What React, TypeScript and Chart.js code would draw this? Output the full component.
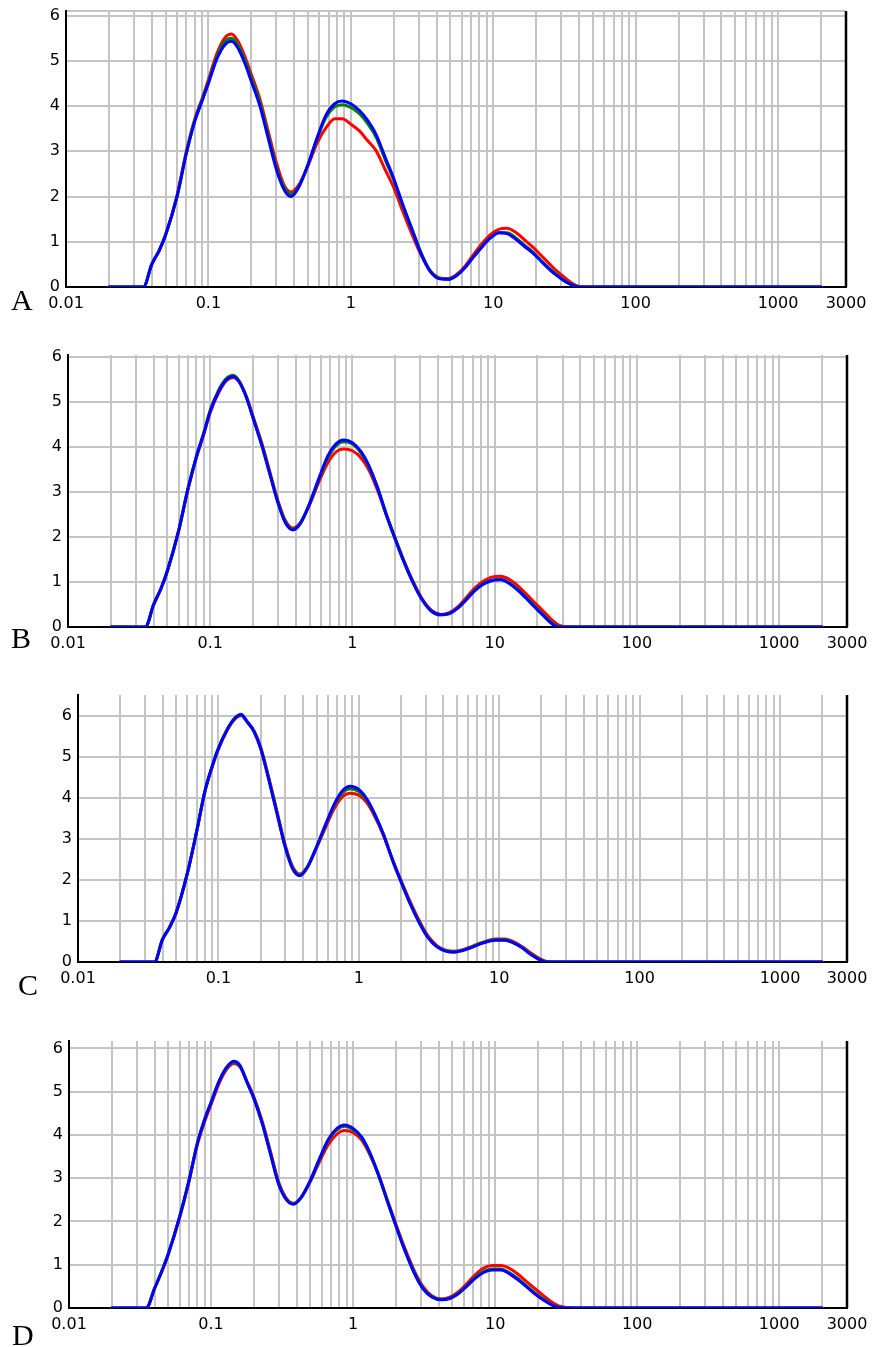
import React, { useEffect, useRef } from 'react';
import { Chart, registerables } from 'chart.js';

Chart.register(...registerables);

// particle size classes (µm) shared by all panels
const sizes = [0.02, 0.035, 0.04, 0.045, 0.05, 0.06, 0.07, 0.08, 0.09, 0.1, 0.115, 0.13, 0.145, 0.16, 0.18, 0.2, 0.23, 0.26, 0.3, 0.34, 0.38, 0.43, 0.5, 0.58, 0.67, 0.77, 0.87, 1.0, 1.15, 1.3, 1.5, 1.75, 2.0, 2.3, 2.7, 3.1, 3.6, 4.2, 4.8, 5.5, 6.3, 7.2, 8.3, 9.5, 11, 12.5, 14.5, 16.5, 19, 22, 25, 28, 32, 36, 40, 45, 2000];

const xTickValues = [0.01, 0.1, 1, 10, 100, 1000, 3000];
const xTickLabels = ['0.01', '0.1', '1', '10', '100', '1000', '3000'];
const yTickValues = [0, 1, 2, 3, 4, 5, 6];
const decades = [0.01, 0.1, 1, 10, 100, 1000];
const X_MIN = 0.01;
const X_MAX = 3000;

// Panel A
const aRed = [0, 0, 0.5, 0.8, 1.15, 2.0, 3.0, 3.7, 4.15, 4.58, 5.17, 5.5, 5.59, 5.45, 5.1, 4.7, 4.15, 3.5, 2.75, 2.25, 2.1, 2.25, 2.68, 3.18, 3.52, 3.72, 3.72, 3.6, 3.45, 3.25, 3.02, 2.58, 2.2, 1.7, 1.15, 0.72, 0.36, 0.2, 0.18, 0.27, 0.45, 0.7, 0.95, 1.15, 1.28, 1.3, 1.2, 1.05, 0.88, 0.68, 0.5, 0.35, 0.2, 0.08, 0.01, 0, 0];
const aGreen = [0, 0, 0.5, 0.8, 1.15, 1.98, 2.97, 3.67, 4.12, 4.53, 5.1, 5.42, 5.5, 5.37, 5.02, 4.62, 4.08, 3.42, 2.65, 2.2, 2.05, 2.22, 2.7, 3.28, 3.75, 3.98, 4.03, 3.97, 3.83, 3.63, 3.32, 2.8, 2.37, 1.82, 1.27, 0.77, 0.36, 0.19, 0.17, 0.25, 0.42, 0.65, 0.88, 1.08, 1.2, 1.2, 1.08, 0.93, 0.77, 0.57, 0.4, 0.27, 0.13, 0.05, 0, 0, 0];
const aBlue = [0, 0, 0.5, 0.8, 1.15, 1.98, 2.95, 3.65, 4.1, 4.5, 5.05, 5.35, 5.43, 5.3, 4.95, 4.55, 4.0, 3.35, 2.6, 2.15, 2.0, 2.2, 2.7, 3.3, 3.8, 4.05, 4.11, 4.05, 3.9, 3.7, 3.38, 2.85, 2.4, 1.85, 1.25, 0.75, 0.35, 0.18, 0.17, 0.25, 0.42, 0.65, 0.88, 1.08, 1.2, 1.18, 1.05, 0.9, 0.75, 0.55, 0.38, 0.25, 0.12, 0.04, 0, 0, 0];

// Panel B
const bRed = [0, 0, 0.5, 0.85, 1.25, 2.13, 3.08, 3.77, 4.28, 4.77, 5.22, 5.48, 5.55, 5.45, 5.12, 4.68, 4.1, 3.5, 2.8, 2.35, 2.2, 2.32, 2.72, 3.22, 3.65, 3.9, 3.96, 3.92, 3.76, 3.5, 3.04, 2.45, 1.97, 1.48, 0.98, 0.62, 0.37, 0.28, 0.32, 0.45, 0.65, 0.86, 1.02, 1.11, 1.13, 1.07, 0.92, 0.75, 0.55, 0.35, 0.17, 0.05, 0, 0, 0, 0, 0];
const bGreen = [0, 0, 0.5, 0.85, 1.25, 2.15, 3.1, 3.8, 4.32, 4.82, 5.28, 5.53, 5.6, 5.47, 5.1, 4.66, 4.06, 3.46, 2.77, 2.32, 2.18, 2.31, 2.74, 3.28, 3.76, 4.04, 4.12, 4.07, 3.87, 3.58, 3.1, 2.46, 1.96, 1.46, 0.96, 0.6, 0.35, 0.27, 0.3, 0.42, 0.61, 0.81, 0.96, 1.04, 1.06, 0.99, 0.84, 0.67, 0.47, 0.27, 0.1, 0.01, 0, 0, 0, 0, 0];
const bBlue = [0, 0, 0.5, 0.85, 1.25, 2.15, 3.1, 3.79, 4.3, 4.8, 5.25, 5.5, 5.57, 5.45, 5.1, 4.65, 4.05, 3.45, 2.75, 2.3, 2.16, 2.3, 2.75, 3.3, 3.8, 4.08, 4.16, 4.1, 3.9, 3.6, 3.1, 2.45, 1.95, 1.45, 0.95, 0.6, 0.35, 0.27, 0.3, 0.42, 0.6, 0.8, 0.95, 1.03, 1.05, 0.98, 0.82, 0.65, 0.45, 0.25, 0.08, 0, 0, 0, 0, 0, 0];

// Panel C
const cRed = [0, 0, 0.55, 0.85, 1.2, 2.15, 3.17, 4.13, 4.73, 5.18, 5.63, 5.9, 6.0, 5.85, 5.62, 5.23, 4.45, 3.7, 2.83, 2.3, 2.14, 2.32, 2.78, 3.28, 3.74, 4.03, 4.11, 4.06, 3.86, 3.54, 3.08, 2.47, 1.98, 1.5, 1.0, 0.64, 0.4, 0.28, 0.26, 0.3, 0.37, 0.45, 0.52, 0.56, 0.56, 0.5, 0.38, 0.24, 0.1, 0.01, 0, 0, 0, 0, 0, 0, 0];
const cGreen = [0, 0, 0.55, 0.85, 1.2, 2.15, 3.18, 4.15, 4.75, 5.2, 5.65, 5.93, 6.03, 5.86, 5.6, 5.2, 4.42, 3.67, 2.8, 2.27, 2.12, 2.31, 2.8, 3.33, 3.82, 4.13, 4.22, 4.15, 3.92, 3.58, 3.1, 2.46, 1.96, 1.46, 0.97, 0.61, 0.38, 0.27, 0.25, 0.29, 0.36, 0.44, 0.51, 0.54, 0.54, 0.48, 0.36, 0.21, 0.08, 0, 0, 0, 0, 0, 0, 0, 0];
const cBlue = [0, 0, 0.55, 0.85, 1.2, 2.15, 3.18, 4.15, 4.75, 5.2, 5.65, 5.92, 6.02, 5.85, 5.6, 5.2, 4.4, 3.65, 2.78, 2.25, 2.1, 2.3, 2.8, 3.35, 3.85, 4.18, 4.28, 4.2, 3.95, 3.6, 3.1, 2.45, 1.95, 1.45, 0.95, 0.6, 0.37, 0.26, 0.24, 0.28, 0.35, 0.43, 0.5, 0.53, 0.53, 0.47, 0.35, 0.2, 0.07, 0, 0, 0, 0, 0, 0, 0, 0];

// Panel D
const dRed = [0, 0, 0.45, 0.85, 1.25, 2.08, 2.93, 3.77, 4.3, 4.7, 5.22, 5.53, 5.65, 5.57, 5.22, 4.88, 4.3, 3.66, 2.9, 2.53, 2.42, 2.55, 2.92, 3.38, 3.78, 4.02, 4.1, 4.05, 3.88, 3.57, 3.1, 2.48, 1.94, 1.4, 0.86, 0.5, 0.28, 0.21, 0.25, 0.37, 0.56, 0.76, 0.92, 0.98, 0.98, 0.92, 0.78, 0.62, 0.45, 0.28, 0.14, 0.05, 0.01, 0, 0, 0, 0];
const dGreen = [0, 0, 0.45, 0.85, 1.25, 2.1, 2.95, 3.8, 4.35, 4.75, 5.27, 5.57, 5.68, 5.58, 5.2, 4.85, 4.26, 3.62, 2.87, 2.51, 2.41, 2.55, 2.94, 3.43, 3.87, 4.12, 4.2, 4.12, 3.93, 3.6, 3.1, 2.46, 1.91, 1.36, 0.82, 0.46, 0.26, 0.2, 0.23, 0.34, 0.51, 0.7, 0.84, 0.9, 0.9, 0.82, 0.68, 0.52, 0.35, 0.2, 0.08, 0.02, 0, 0, 0, 0, 0];
const dBlue = [0, 0, 0.45, 0.85, 1.25, 2.1, 2.95, 3.8, 4.35, 4.75, 5.27, 5.58, 5.7, 5.6, 5.2, 4.85, 4.25, 3.6, 2.85, 2.5, 2.4, 2.55, 2.95, 3.45, 3.9, 4.15, 4.23, 4.15, 3.95, 3.62, 3.1, 2.45, 1.9, 1.35, 0.8, 0.45, 0.25, 0.19, 0.22, 0.33, 0.5, 0.68, 0.82, 0.88, 0.88, 0.8, 0.65, 0.5, 0.33, 0.18, 0.07, 0.01, 0, 0, 0, 0, 0];

type Panel = {
  letter: string;
  top: number;
  height: number;
  left: number;
  right: number;
  plotTop: number;
  bottom: number;
  yMax: number;
  topLine: boolean;
  letterX: number;
  letterY: number;
  red: number[];
  green: number[];
  blue: number[];
};

const panels: Panel[] = [
  { letter: 'A', top: 0, height: 326, left: 66, right: 846, plotTop: 11, bottom: 287, yMax: 6.1, topLine: true, letterX: 11, letterY: 285, red: aRed, green: aGreen, blue: aBlue },
  { letter: 'B', top: 334, height: 330, left: 68, right: 847, plotTop: 355, bottom: 627, yMax: 6.05, topLine: false, letterX: 11, letterY: 623, red: bRed, green: bGreen, blue: bBlue },
  { letter: 'C', top: 672, height: 330, left: 78, right: 847, plotTop: 695, bottom: 962, yMax: 6.5, topLine: false, letterX: 18, letterY: 970, red: cRed, green: cGreen, blue: cBlue },
  { letter: 'D', top: 1012, height: 335, left: 69, right: 847, plotTop: 1041, bottom: 1308, yMax: 6.17, topLine: false, letterX: 12, letterY: 1320, red: dRed, green: dGreen, blue: dBlue },
];

const W = 874;
const TICK_FONT = { family: '"DejaVu Sans", Verdana, sans-serif', size: 16 };
const GRID = '#c4c4c4';

const gridTicks: number[] = [];
decades.forEach((d) => {
  for (let k = 1; k <= 9; k++) {
    const v = parseFloat((d * k).toPrecision(6));
    if (v <= X_MAX) gridTicks.push(v);
  }
});

function xLabel(v: number): string {
  for (let i = 0; i < xTickValues.length; i++) {
    if (Math.abs(Math.log10(v) - Math.log10(xTickValues[i])) < 1e-6) return xTickLabels[i];
  }
  return '';
}

const frame = {
  id: 'frame',
  afterDraw(chart: any) {
    const { ctx, chartArea } = chart;
    ctx.save();
    ctx.strokeStyle = '#000';
    ctx.lineWidth = 2.5;
    ctx.beginPath();
    ctx.moveTo(chartArea.right, chartArea.top);
    ctx.lineTo(chartArea.right, chartArea.bottom);
    ctx.stroke();
    ctx.restore();
  },
};

function PanelChart({ p }: { p: Panel }) {
  const ref = useRef<HTMLCanvasElement>(null);
  useEffect(() => {
    const canvas = ref.current!;
    const yTicks = p.topLine ? [...yTickValues, p.yMax] : [...yTickValues];
    const mk = (vals: number[], color: string) => ({
      data: sizes.map((x, i) => ({ x, y: vals[i] })),
      borderColor: color,
      backgroundColor: color,
      borderWidth: 3,
      borderJoinStyle: 'round' as const,
      borderCapStyle: 'round' as const,
      pointRadius: 0,
      fill: false,
      cubicInterpolationMode: 'monotone' as const,
    });
    const chart = new Chart(canvas, {
      type: 'line',
      data: {
        datasets: [mk(p.blue, '#0000ff'), mk(p.green, '#008000'), mk(p.red, '#ff0000')],
      },
      options: {
        animation: false,
        responsive: false,
        maintainAspectRatio: false,
        layout: { padding: { top: p.plotTop - p.top, right: W - p.right, left: 0, bottom: 0 } },
        plugins: { legend: { display: false }, tooltip: { enabled: false } },
        scales: {
          x: {
            type: 'logarithmic',
            min: X_MIN,
            max: X_MAX,
            afterBuildTicks: (s: any) => {
              s.ticks = gridTicks.map((v) => ({ value: v }));
            },
            afterFit: (s: any) => {
              s.height = p.top + p.height - p.bottom;
              s.paddingLeft = 0;
              s.paddingRight = 0;
            },
            ticks: {
              autoSkip: false,
              maxRotation: 0,
              minRotation: 0,
              padding: 7,
              color: '#000',
              font: TICK_FONT,
              callback: (v: any) => xLabel(Number(v)),
            },
            grid: { color: GRID, lineWidth: 2, drawTicks: false },
            border: { color: '#000', width: 2 },
          },
          y: {
            type: 'linear',
            min: 0,
            max: p.yMax,
            afterBuildTicks: (s: any) => {
              s.ticks = yTicks.map((v) => ({ value: v }));
            },
            afterFit: (s: any) => {
              s.width = p.left;
              s.paddingTop = 0;
              s.paddingBottom = 0;
            },
            ticks: {
              padding: 6,
              color: '#000',
              font: TICK_FONT,
              callback: (v: any) => (Number.isInteger(Number(v)) ? String(v) : ''),
            },
            grid: { color: GRID, lineWidth: 2, drawTicks: false },
            border: { color: '#000', width: 2 },
          },
        },
      },
      plugins: [frame],
    });
    return () => chart.destroy();
  }, [p]);
  return (
    <canvas
      ref={ref}
      width={W}
      height={p.height}
      style={{ position: 'absolute', left: 0, top: p.top, width: W, height: p.height }}
    />
  );
}

export default function App() {
  return (
    <div style={{ position: 'absolute', left: 0, top: 0, width: W, height: 1347, background: '#fff' }}>
      {panels.map((p) => (
        <React.Fragment key={p.letter}>
          <PanelChart p={p} />
          <div
            style={{
              position: 'absolute',
              left: p.letterX,
              top: p.letterY,
              fontFamily: '"Liberation Serif", "Times New Roman", serif',
              fontSize: 30,
              lineHeight: '30px',
              color: '#000',
            }}
          >
            {p.letter}
          </div>
        </React.Fragment>
      ))}
    </div>
  );
}
